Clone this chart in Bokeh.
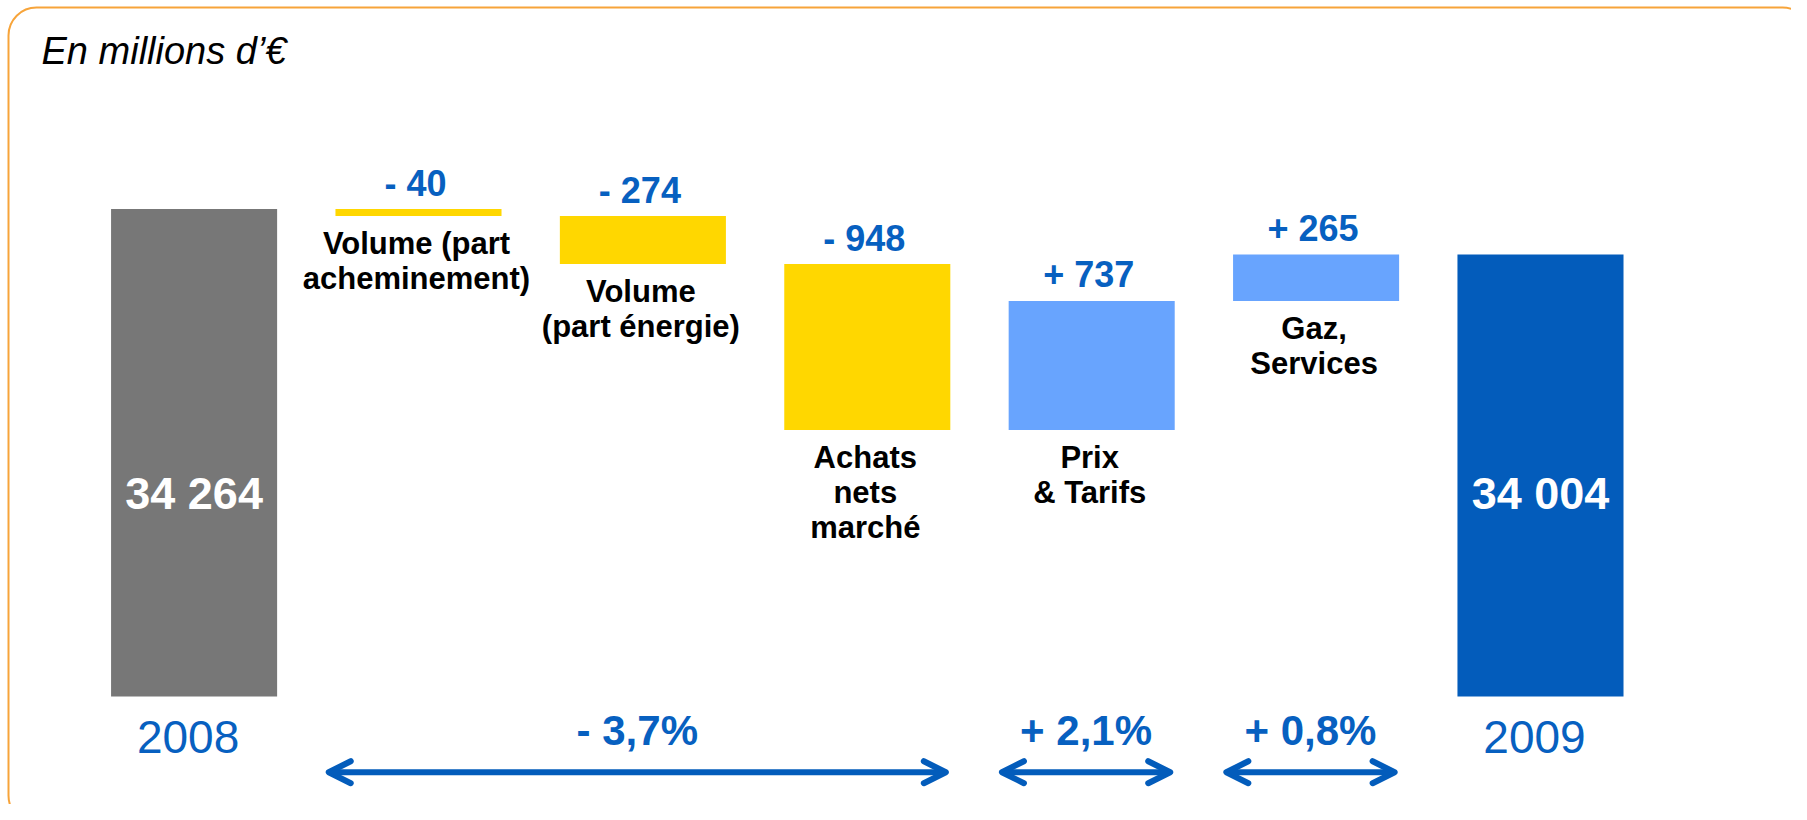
from bokeh.plotting import figure
from bokeh.models import Range1d, Arrow, OpenHead
from bokeh.embed import file_html
from bokeh.resources import INLINE
from bokeh.core.properties import value

# ---------------- data ----------------
categories = ["2008", "Volume (part\nacheminement)", "Volume\n(part énergie)",
              "Achats\nnets\nmarché", "Prix\n& Tarifs", "Gaz,\nServices", "2009"]
start_total = 34264
deltas = [-40, -274, -948, 737, 265]
end_total = 34004
year_labels = ["2008", "2009"]
growth_labels = ["- 3,7%", "+ 2,1%", "+ 0,8%"]
growth_first = [1, 4, 5]   # first category covered by each growth arrow
growth_last = [3, 4, 5]    # last category covered
title_text = "En millions d\u2019€"

# ---------------- styles ----------------
FONT = value("Liberation Sans")
GRAY = "#777777"
YELLOW = "#FFD700"
LIGHT_BLUE = "#68A4FE"
DARK_BLUE = "#035CBB"
TEXT_BLUE = "#0760C0"
ORANGE = "#F7A43A"
W, H = 1791, 804
BAR_W = 0.74
TOTAL_BASE = 31479          # broken-axis floor of the total bars
PAD_L, PAD_R = 0.40, 0.35   # arrow overhang, in category units

# ---------------- derived ----------------
levels = [start_total]
for d in deltas:
    levels.append(levels[-1] + d)
d_x = list(range(1, 1 + len(deltas)))
d_bottom = [min(levels[i], levels[i + 1]) for i in range(len(deltas))]
d_top = [max(levels[i], levels[i + 1]) for i in range(len(deltas))]
d_color = [YELLOW if d < 0 else LIGHT_BLUE for d in deltas]
d_label = [("- " if d < 0 else "+ ") + str(abs(d)) for d in deltas]
tot_x = [0, len(categories) - 1]
tot_val = [start_total, end_total]
tot_color = [GRAY, DARK_BLUE]
tot_label = [f"{v:,}".replace(",", " ") for v in tot_val]

p = figure(width=W, height=H, output_backend="svg", toolbar_location=None,
           x_range=Range1d(-0.8627, 7.1186), y_range=Range1d(30862, 35456),
           x_axis_type=None, y_axis_type=None, min_border=0,
           outline_line_color=None, background_fill_color="white")
p.extra_x_ranges = {"px": Range1d(0, W)}
p.extra_y_ranges = {"px": Range1d(H, 0)}

# border
p.quad(left=8, right=1810, top=7, bottom=823, x_range_name="px", y_range_name="px",
       fill_color=None, line_color=ORANGE, line_width=2, border_radius=28)

# title
p.text(x=[41], y=[50], text=[title_text], x_range_name="px", y_range_name="px",
       text_font=FONT, text_font_style="italic", text_font_size="38px",
       text_color="black", text_align="left", text_baseline="middle")

# bars
p.vbar(x=tot_x, bottom=TOTAL_BASE, top=tot_val, width=BAR_W,
       fill_color=tot_color, line_color=None)
p.vbar(x=d_x, bottom=d_bottom, top=d_top, width=BAR_W,
       fill_color=d_color, line_color=None)

# delta value labels
p.text(x=d_x, y=d_top, text=d_label, y_offset=-26, x_offset=-3, text_font=FONT,
       text_font_style="bold", text_font_size="36px", text_color=TEXT_BLUE,
       text_align="center", text_baseline="middle")

# category labels
p.text(x=d_x, y=d_bottom, text=categories[1:-1], y_offset=10, x_offset=-2,
       text_font=FONT, text_font_style="bold", text_font_size="31px",
       text_color="black", text_align="center", text_baseline="top",
       text_line_height=1.0)

# totals inside bars
p.text(x=tot_x, y=TOTAL_BASE, text=tot_label, y_offset=-203, text_font=FONT,
       text_font_style="bold", text_font_size="45px", text_color="white",
       text_align="center", text_baseline="middle")

# year labels
p.text(x=tot_x, y=TOTAL_BASE, text=year_labels, y_offset=40, x_offset=-6,
       text_font=FONT, text_font_size="46px", text_color=TEXT_BLUE,
       text_align="center", text_baseline="middle")

# growth arrows and labels
g_start = [f - PAD_L for f in growth_first]
g_end = [l + PAD_R for l in growth_last]
g_mid = [(a + b) / 2 for a, b in zip(g_start, g_end)]
p.text(x=g_mid, y=TOTAL_BASE, text=growth_labels, y_offset=34, text_font=FONT,
       text_font_style="bold", text_font_size="42px", text_color=TEXT_BLUE,
       text_align="center", text_baseline="middle")
for a, b in zip(g_start, g_end):
    p.add_layout(Arrow(x_start=a, x_end=b, y_start=771.7, y_end=771.7,
                       y_range_name="px", line_color=DARK_BLUE, line_width=6,
                       start=OpenHead(size=22, line_color=DARK_BLUE, line_width=6,
                                      line_cap="round", line_join="round"),
                       end=OpenHead(size=22, line_color=DARK_BLUE, line_width=6,
                                    line_cap="round", line_join="round")))

open("out.html", "w").write(file_html(p, INLINE))
